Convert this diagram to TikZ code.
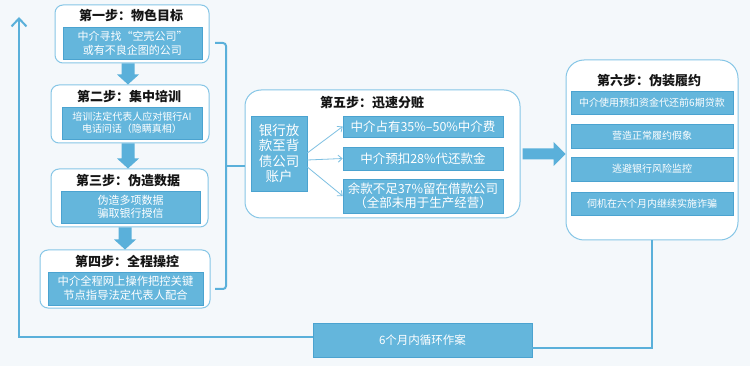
\documentclass[tikz,border=0pt]{standalone}
\usepackage{fontspec}
\setmainfont{Noto Sans CJK SC}
\usetikzlibrary{arrows.meta,calc}
\definecolor{boxblue}{HTML}{64B6DC}
\definecolor{boxedge}{HTML}{4BA3D0}
\definecolor{outeredge}{HTML}{86C6E6}
\definecolor{linkblue}{HTML}{5AB0DA}
\definecolor{thinblue}{HTML}{7DC0E2}
\definecolor{bg}{HTML}{F4F8FB}
\definecolor{titletext}{HTML}{151515}
\newcommand{\fs}[2]{\fontsize{#1}{#2}\selectfont}
\begin{document}
\begin{tikzpicture}[x=1pt,y=-1pt,
  outer/.style={draw=outeredge, line width=1pt, fill=white, rounded corners=8pt, inner sep=0pt},
  inner/.style={draw=boxedge, line width=0.6pt, fill=boxblue, text=white, align=center, inner sep=0pt},
  title/.style={font=\bfseries\fs{13}{15}, text=titletext, inner sep=0pt},
  link/.style={draw=linkblue, line width=2pt},
  thinlink/.style={draw=thinblue, line width=0.8pt, -{Straight Barb[length=4pt,width=7pt]}},
  downblk/.style={fill=linkblue, to path={let \p1=(\tikztostart), \p2=(\tikztotarget) in
     (\x1-6.5pt,\y1) -- (\x1-6.5pt,\y2+10pt) -- (\x1-11pt,\y2+10pt) -- (\x1,\y2)
     -- (\x1+11pt,\y2+10pt) -- (\x1+6.5pt,\y2+10pt) -- (\x1+6.5pt,\y1) -- cycle}},
  rightblk/.style={fill=linkblue, to path={let \p1=(\tikztostart), \p2=(\tikztotarget) in
     (\x1,\y1+5.5pt) -- (\x2-12pt,\y1+5.5pt) -- (\x2-12pt,\y1+12pt) -- (\x2,\y1)
     -- (\x2-12pt,\y1-12pt) -- (\x2-12pt,\y1-5.5pt) -- (\x1,\y1-5.5pt) -- cycle}}
]
\fill[bg] (0,0) rectangle (750,366);
\useasboundingbox (0,0) rectangle (750,366);

% Step 1
\node[outer, minimum width=154pt, minimum height=58pt] (s1) at (132,34) {};
\node[title] (t1) at (131,16) {第一步：物色目标};
\node[inner, minimum width=139pt, minimum height=32pt, font=\fs{11}{14}] (i1) at (132.5,43) {中介寻找“空壳公司”\\或有不良企图的公司};

% Step 2
\node[outer, minimum width=158pt, minimum height=58pt] (s2) at (130,114) {};
\node[title] (t2) at (129,97) {第二步：集中培训};
\node[inner, minimum width=140pt, minimum height=32pt, font=\fs{10}{12}] (i2) at (132,123) {培训法定代表人应对银行AI\\电话问话（隐瞒真相）};

% Step 3
\node[outer, minimum width=157pt, minimum height=58pt] (s3) at (129.5,198) {};
\node[title] (t3) at (128,181) {第三步：伪造数据};
\node[inner, minimum width=139pt, minimum height=32pt, font=\fs{11}{13}] (i3) at (130.5,207) {伪造多项数据\\骗取银行授信};

% Step 4
\node[outer, minimum width=170pt, minimum height=58pt] (s4) at (125,279) {};
\node[title] (t4) at (127,262) {第四步：全程操控};
\node[inner, minimum width=155pt, minimum height=33pt, font=\fs{11.3}{14}] (i4) at (125.5,288.5) {中介全程网上操作把控关键\\节点指导法定代表人配合};

% block arrows between steps
\coordinate (ax1) at (128,0);
\coordinate (ax2) at (125,0);
\path[downblk] (s1.south -| ax1) to (s2.north -| ax1);
\path[downblk] (s2.south -| ax1) to (s3.north -| ax1);
\path[downblk] (s3.south -| ax2) to (s4.north -| ax2);

% Step 5
\node[outer, rounded corners=16pt, minimum width=275pt, minimum height=128pt] (s5) at (382.5,154) {};
\node[title] (t5) at (372,103) {第五步：迅速分赃};
\node[inner, minimum width=56pt, minimum height=75pt, font=\fs{13.5}{15.5}] (acct) at (279,153.5) {银行放\\款至背\\债公司\\账户};
\node[inner, minimum width=160pt, minimum height=21pt, font=\fs{12.5}{14.5}] (ra) at (423,126.5) {中介占有35\%–50\%中介费};
\node[inner, minimum width=160pt, minimum height=23pt, font=\fs{12.5}{14.5}] (rb) at (423,158.5) {中介预扣28\%代还款金};
\node[inner, minimum width=160pt, minimum height=34pt, font=\fs{12.5}{14}] (rc) at (423,196) {余款不足37\%留在借款公司\\（全部未用于生产经营）};
\draw[thinlink] ([yshift=0.5pt]acct.east) -- (ra.west);
\draw[thinlink] ([yshift=-6.5pt]acct.east) -- (rb.west);
\draw[thinlink] ([yshift=-13.5pt]acct.east) -- (rc.west);

% Step 6
\node[outer, rounded corners=18pt, minimum width=172pt, minimum height=180pt] (s6) at (652,150) {};
\node[title] (t6) at (649,81) {第六步：伪装履约};
\node[inner, minimum width=162pt, minimum height=23pt, font=\fs{10}{12}] (u1) at (652,102.5) {中介使用预扣资金代还前6期贷款};
\node[inner, minimum width=162pt, minimum height=24pt, font=\fs{10}{12}] (u2) at (652,136) {营造正常履约假象};
\node[inner, minimum width=162pt, minimum height=24pt, font=\fs{10}{12}] (u3) at (652,169) {逃避银行风险监控};
\node[inner, minimum width=162pt, minimum height=23pt, font=\fs{10}{12}] (u4) at (652,203.5) {伺机在六个月内继续实施诈骗};

% arrow step5 -> step6
\path[rightblk] ([xshift=2pt]s5.east) to (s6.west |- s5.east);

% bracket from steps 1-4 to step 5
\coordinate (bt) at (215,43);
\coordinate (bb) at (215,289);
\coordinate (bm) at (226,166);
\draw[link, rounded corners=3pt] (bt) -- (226,43) -- (226,289) -- (bb);
\draw[link] (bm) -- (s5.west |- bm);

% loop box
\node[inner, minimum width=219pt, minimum height=34pt, font=\fs{11.5}{13}] (loop) at (422.5,340) {6个月内循环作案};
\coordinate (looptop) at (19,17);
\draw[link, -{Straight Barb[length=8pt,width=15pt]}] ([yshift=3pt]loop.west) -| (looptop);
\draw[link] ([yshift=-8pt]loop.east) -| (s6.south);
\end{tikzpicture}
\end{document}
